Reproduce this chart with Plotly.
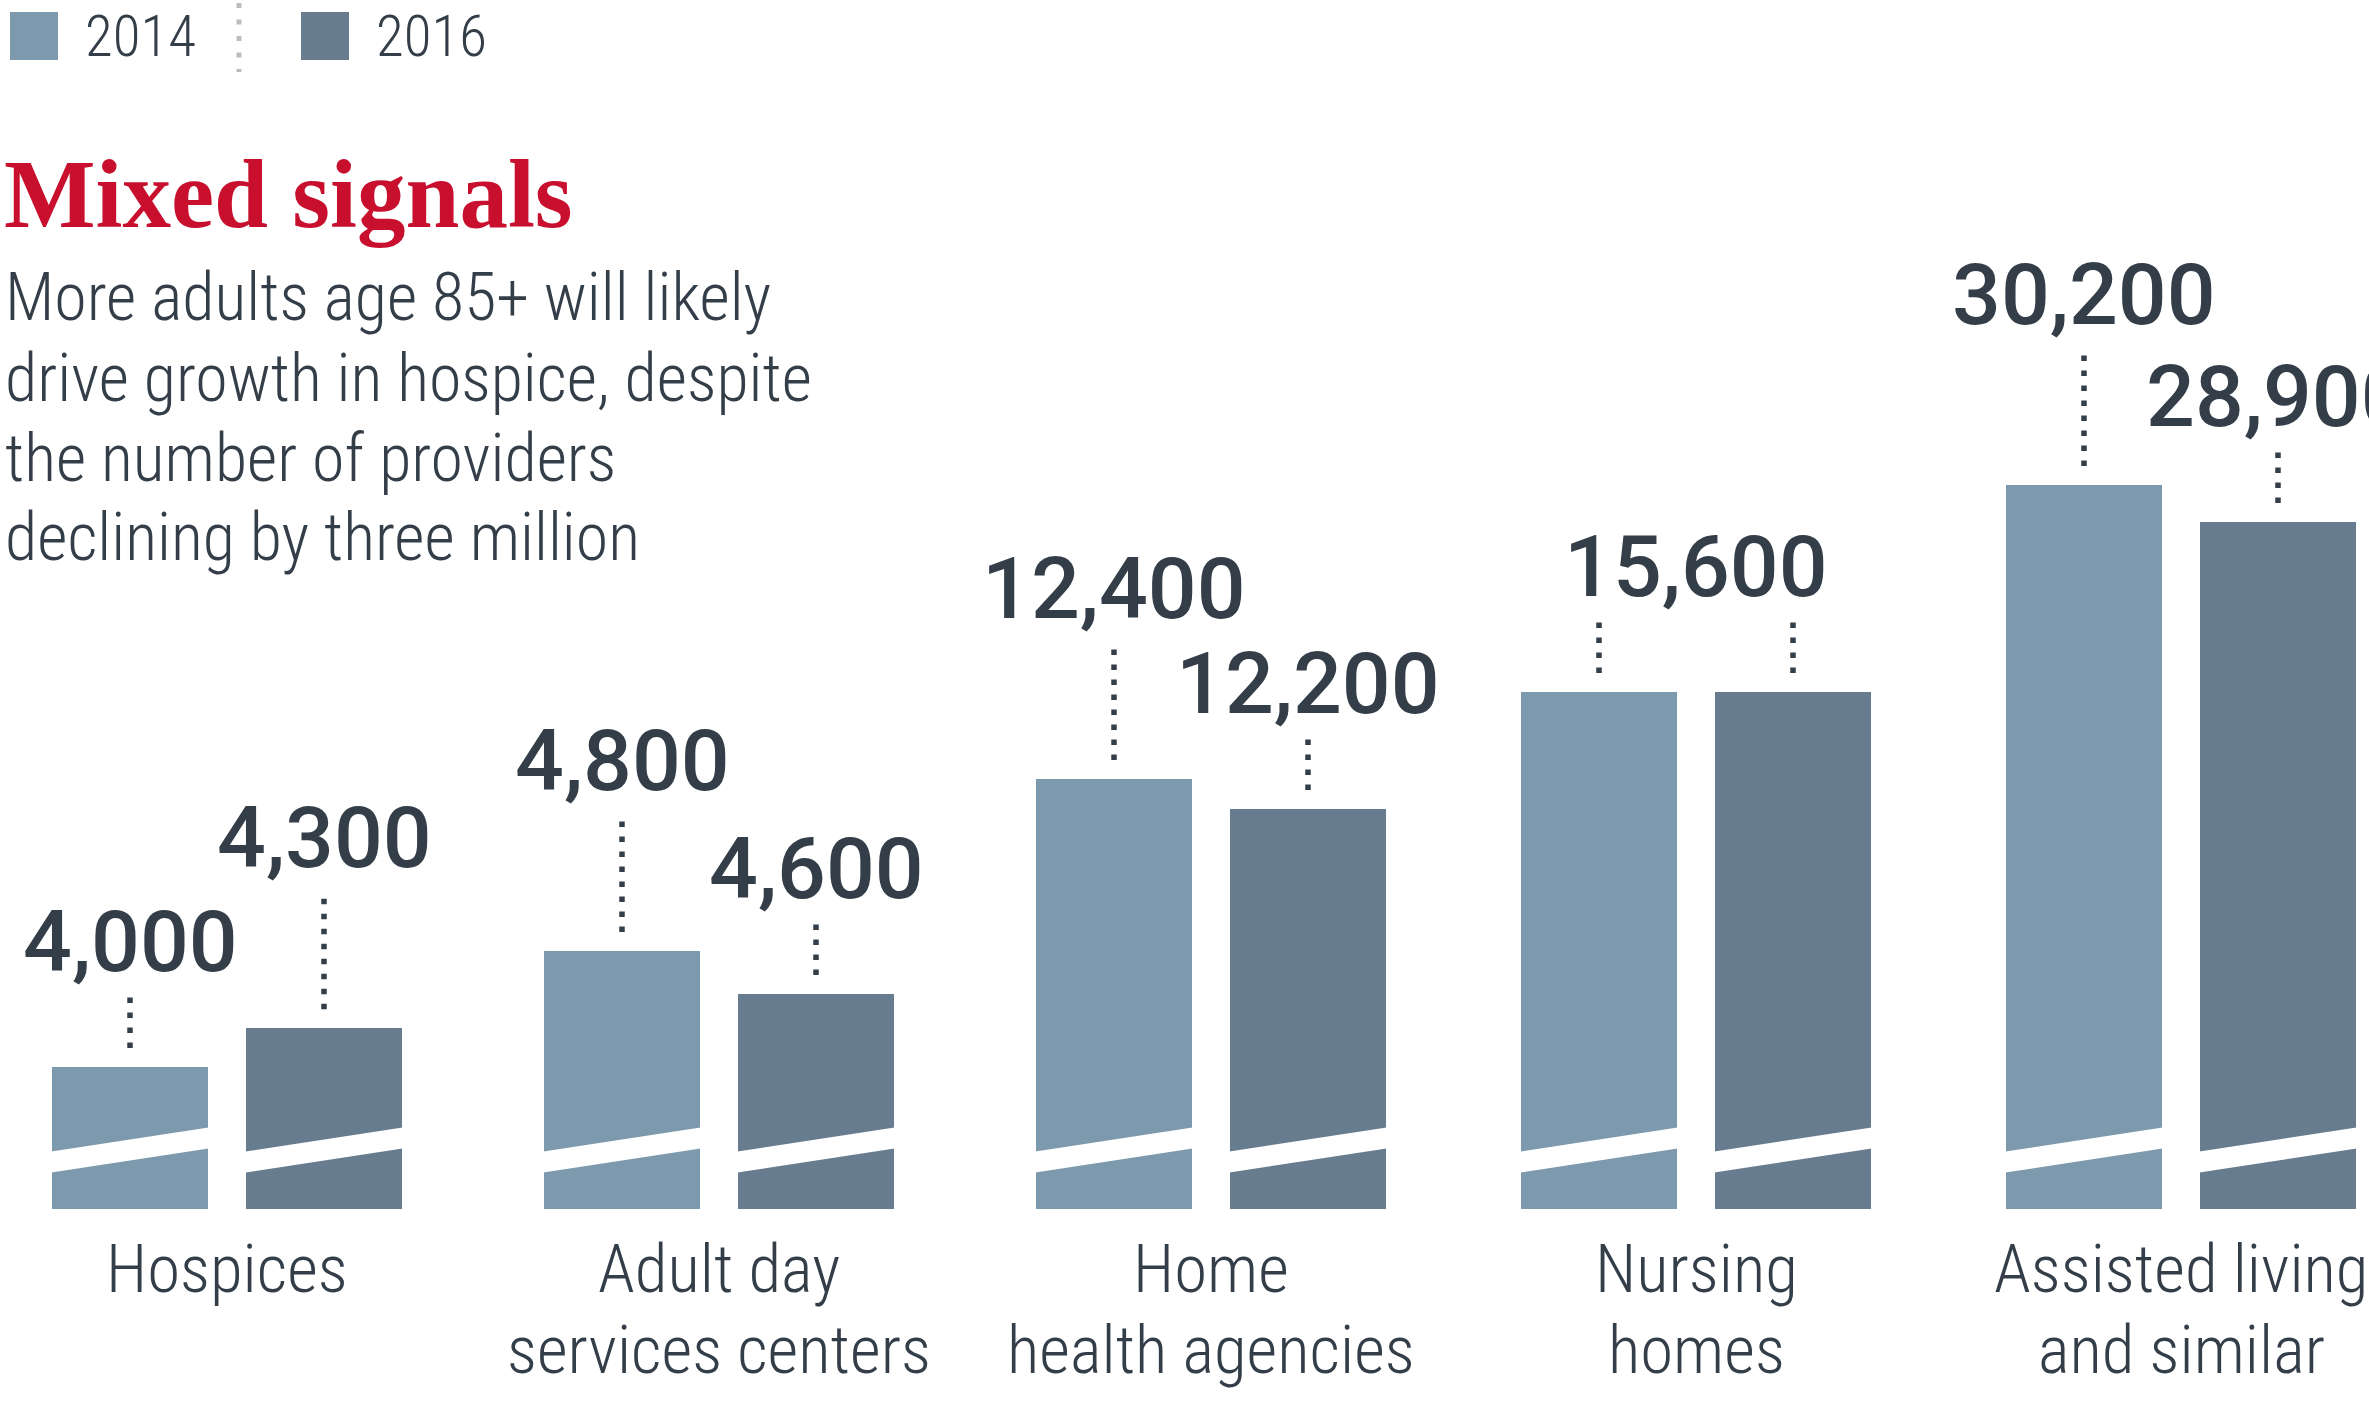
import plotly.graph_objects as go

# ---------------- data ----------------
CATEGORIES = ["Hospices", "Adult day<br>services centers", "Home<br>health agencies",
              "Nursing<br>homes", "Assisted living<br>and similar"]
YEARS = ["2014", "2016"]
PROVIDERS_2014 = [4000, 4800, 12400, 15600, 30200]
PROVIDERS_2016 = [4300, 4600, 12200, 15600, 28900]

# broken value axis: every group sits on its own truncated scale
Y_RANGES = [(2900, 10716), (3600, 8293), (9530, 16266), (10000, 20929), (4760, 40215)]

TITLE = "Mixed signals"
SUBTITLE = ["More adults age 85+ will likely", "drive growth in hospice, despite",
            "the number of providers", "declining by three million"]

# ---------------- style ----------------
W, H = 2369, 1411
COLORS = {"2014": "#7d99ad", "2016": "#687c8f"}
INK = "#333e49"
RED = "#c8102e"
NUM_FONT = dict(family="Roboto", size=86, color=INK, weight=500)
LIGHT = dict(family="Roboto", color=INK, weight=300)

GROUP_CENTERS = [227, 719, 1211, 1696, 2181]   # px
UNIT_PX = 194                                   # px between the two bars of a group
X_RANGE = (-0.45, 1.45)
BAR_WIDTH = 0.804
PLOT_BOTTOM, PLOT_TOP = 1209, 200               # px from top of page
LONG_BASE, SHORT_BASE = 160, 95                 # label baseline above bar top (px)
CAP_HALF = 30.5


def px(x):
    return x / W


def py(y):
    return 1 - y / H


def narrow(text, pct):
    """Set a run of text in a condensed width of the font."""
    return f'<span style="font-stretch:{pct}%">{text}</span>'


fig = go.Figure()
layout_axes = {}
shapes = []
annotations = []

half = (X_RANGE[1] - X_RANGE[0]) / 2 * UNIT_PX
for i, cat in enumerate(CATEGORIES):
    n = "" if i == 0 else str(i + 1)
    xa, ya = f"x{n}", f"y{n}"
    vals = [PROVIDERS_2014[i], PROVIDERS_2016[i]]
    fig.add_trace(go.Bar(
        x=[0, 1], y=vals, xaxis=xa, yaxis=ya, width=BAR_WIDTH,
        marker=dict(color=[COLORS[y] for y in YEARS], line=dict(width=0)),
        showlegend=False, hoverinfo="skip"))
    c = GROUP_CENTERS[i]
    layout_axes[f"xaxis{n}"] = dict(domain=[px(c - half), px(c + half)], range=list(X_RANGE),
                                   visible=False, fixedrange=True, anchor=ya)
    layout_axes[f"yaxis{n}"] = dict(domain=[py(PLOT_BOTTOM), py(PLOT_TOP)], range=list(Y_RANGES[i]),
                                   visible=False, fixedrange=True, anchor=xa)

    # value labels with dotted leaders
    if vals[0] == vals[1]:
        offsets = [SHORT_BASE, SHORT_BASE]
        annotations.append(dict(text=narrow(f"{vals[0]:,}", 88.5), xref=xa, yref=ya, x=0.5, y=vals[0],
                                yshift=SHORT_BASE + CAP_HALF, showarrow=False,
                                xanchor="center", yanchor="middle", font=NUM_FONT))
    else:
        top = 0 if vals[0] > vals[1] else 1
        offsets = [LONG_BASE if j == top else SHORT_BASE for j in range(2)]
        for j in range(2):
            annotations.append(dict(text=narrow(f"{vals[j]:,}", 88.5), xref=xa, yref=ya, x=j, y=vals[j],
                                    yshift=offsets[j] + CAP_HALF, showarrow=False,
                                    xanchor="center", yanchor="middle", font=NUM_FONT))
    for j in range(2):
        shapes.append(dict(type="line", xref=xa, yref=ya, x0=j, x1=j, ysizemode="pixel",
                           yanchor=vals[j], y0=19, y1=offsets[j] - 22,
                           line=dict(color=INK, width=5.5, dash="5.5px,9.5px")))
        # slanted white band marking the axis break
        xl, xr = j - BAR_WIDTH / 2 - 0.02, j + BAR_WIDTH / 2 + 0.02
        b = PLOT_BOTTOM
        shapes.append(dict(type="path", xref=xa, yref="paper", layer="above",
                           path=(f"M {xl},{py(b - 36)} L {xr},{py(b - 61)} "
                                 f"L {xr},{py(b - 82)} L {xl},{py(b - 57)} Z"),
                           fillcolor="white", line=dict(width=0)))

    # category name under the group
    for k, line in enumerate(cat.split("<br>")):
        annotations.append(dict(text=narrow(line, 75), xref=xa, yref="paper", x=0.5, y=py(1269 + 81 * k),
                                showarrow=False, xanchor="center", yanchor="middle",
                                font=dict(LIGHT, size=67)))

# legend
for k, year in enumerate(YEARS):
    x0 = 10 + 291 * k
    shapes.append(dict(type="rect", xref="paper", yref="paper", x0=px(x0), x1=px(x0 + 48),
                       y0=py(60), y1=py(12), fillcolor=COLORS[year], line=dict(width=0)))
    annotations.append(dict(text=narrow(year, 75), xref="paper", yref="paper", x=px(x0 + 73), y=py(37),
                            showarrow=False, xanchor="left", yanchor="middle",
                            font=dict(LIGHT, size=57)))
shapes.append(dict(type="line", xref="paper", yref="paper", x0=px(239), x1=px(239),
                   y0=py(3), y1=py(72), line=dict(color="#bdbdbd", width=5, dash="5px,11.5px")))

# headline and dek
annotations.append(dict(text=f"<b>{TITLE}</b>", xref="paper", yref="paper", x=px(2), y=py(194),
                        showarrow=False, xanchor="left", yanchor="middle",
                        font=dict(family="Liberation Serif", size=97, color=RED)))
for k, line in enumerate(SUBTITLE):
    annotations.append(dict(text=narrow(line, 75), xref="paper", yref="paper", x=px(3), y=py(298 + 80 * k),
                            showarrow=False, xanchor="left", yanchor="middle",
                            font=dict(LIGHT, size=66)))

fig.update_layout(
    width=W, height=H, margin=dict(l=0, r=0, t=0, b=0),
    paper_bgcolor="white", plot_bgcolor="rgba(0,0,0,0)",
    bargap=0, shapes=shapes, annotations=annotations, **layout_axes)

fig.write_html("out.html", post_script="document.body.style.margin='0';")
